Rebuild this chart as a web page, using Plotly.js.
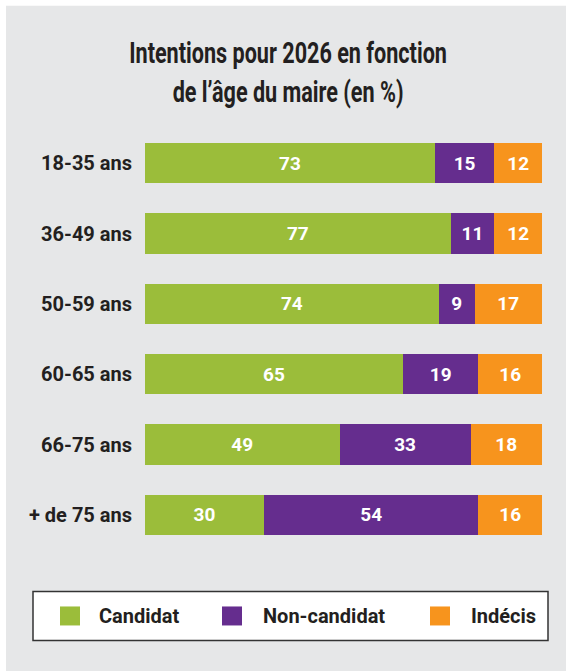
<!DOCTYPE html>
<html>
<head>
<meta charset="utf-8">
<script src="https://cdn.plot.ly/plotly-3.0.1.min.js"></script>
<style>html,body{margin:0;padding:0;background:#fff;}#chart{width:566px;height:671px;}</style>
</head>
<body>
<div id="chart"></div>
<script>
// ---- data ----
const categories = ["18-35 ans", "36-49 ans", "50-59 ans", "60-65 ans", "66-75 ans", "+ de 75 ans"];
const candidat = [73, 77, 74, 65, 49, 30];
const nonCandidat = [15, 11, 9, 19, 33, 54];
const indecis = [12, 12, 17, 16, 18, 16];
const seriesNames = ["Candidat", "Non-candidat", "Indécis"];
const seriesColors = ["#9bbd3a", "#652d8e", "#f7941d"];

// ---- layout constants (pixels) ----
const W = 566, H = 671;
const L = 145, R = 542, T = 128.3, B = 550.5;
const px = x => (x - L) / (R - L);
const py = y => (B - y) / (B - T);
const textDark = "#231f20";
const labelFont = "Roboto, 'DejaVu Sans', sans-serif";

const seriesValues = [candidat, nonCandidat, indecis];
const traces = seriesValues.map((vals, i) => ({
  type: "bar",
  orientation: "h",
  name: seriesNames[i],
  x: vals,
  y: categories,
  marker: {color: seriesColors[i], line: {width: 0}},
  texttemplate: "%{x}",
  textposition: "inside",
  insidetextanchor: "middle",
  textfont: {family: labelFont, size: 19, color: "#ffffff", weight: "bold"},
  hoverinfo: "skip",
  showlegend: false
}));

const shapes = [
  {type: "rect", xref: "paper", yref: "paper", x0: px(6), x1: px(580), y0: py(6), y1: py(690),
   fillcolor: "#e6e7e8", line: {width: 0}, layer: "below"},
  {type: "rect", xref: "paper", yref: "paper", x0: px(33), x1: px(548), y0: py(592), y1: py(641),
   fillcolor: "#ffffff", line: {width: 1.5, color: "#333333"}, layer: "below"}
];
const annotations = [];
const legSquareX = [60, 222, 430];
const legTextX = [97, 261, 469];
seriesNames.forEach((n, i) => {
  shapes.push({type: "rect", xref: "paper", yref: "paper",
    x0: px(legSquareX[i]), x1: px(legSquareX[i] + 20), y0: py(607), y1: py(626),
    fillcolor: seriesColors[i], line: {width: 0}, layer: "above"});
  annotations.push({xref: "paper", yref: "paper", x: px(legTextX[i]), y: py(616.5),
    xanchor: "left", yanchor: "middle", showarrow: false, text: n,
    font: {family: labelFont, size: 20, color: textDark, weight: "bold"}});
});

const layout = {
  width: W, height: H,
  margin: {l: L, r: W - R, t: T, b: H - B, pad: 0},
  paper_bgcolor: "#ffffff",
  plot_bgcolor: "rgba(0,0,0,0)",
  barmode: "stack",
  bargap: 0.425,
  title: {
    text: "Intentions pour 2026 en fonction<br>de l’âge du maire (en %)",
    font: {family: labelFont, size: 30, color: textDark, weight: "bold"},
    x: 0.509, xref: "container", xanchor: "center",
    y: 1 - 63 / H, yref: "container", yanchor: "top"
  },
  xaxis: {range: [0, 100], visible: false, fixedrange: true},
  yaxis: {
    type: "category",
    categoryorder: "array", categoryarray: categories,
    autorange: "reversed",
    showgrid: false, zeroline: false, showline: false, ticks: "",
    ticklabelstandoff: 12,
    tickfont: {family: labelFont, size: 20, color: textDark, weight: "bold"}
  },
  shapes: shapes,
  annotations: annotations,
  showlegend: false
};

Plotly.newPlot("chart", traces, layout, {displayModeBar: false, staticPlot: true}).then(gd => {
  // condense the title horizontally (reference uses a condensed typeface)
  const t = gd.querySelector(".gtitle");
  if (t) {
    const bb = t.getBBox();
    const cx = bb.x + bb.width / 2;
    const s = 318 / bb.width;
    t.setAttribute("transform", `translate(${cx},0) scale(${s},1) translate(${-cx},0)`);
  }
});
</script>
</body>
</html>
